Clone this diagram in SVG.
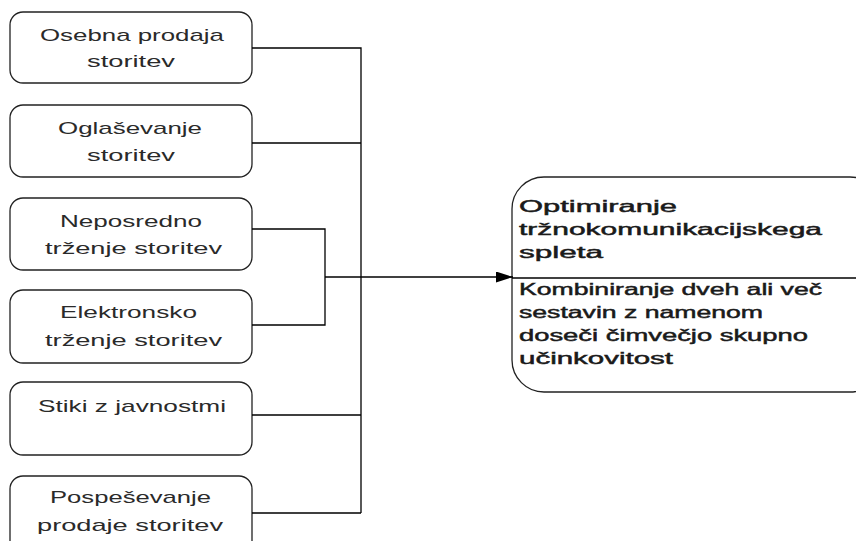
<svg xmlns="http://www.w3.org/2000/svg" width="856" height="541" viewBox="0 0 856 541">
<style>
.box{fill:#fff;stroke:#222;stroke-width:1.3}
.t{font-family:"Liberation Sans",Arial,sans-serif;font-size:17px;fill:#2a2a2a}
.b{font-size:16px;fill:#1a1a1a;stroke:#1a1a1a;stroke-width:0.45}
.ln{fill:none;stroke:#000;stroke-width:1.3}
</style>
<defs>
<marker id="ah" markerWidth="17" markerHeight="11" refX="17" refY="5.5" orient="auto" markerUnits="userSpaceOnUse">
<path d="M0,0 L17,5.5 L0,11 Z" fill="#000"/>
</marker>
</defs>
<g id="n1"><rect class="box" x="10" y="12" width="242" height="71" rx="13"/>
<text class="t" x="40" y="41" textLength="184" lengthAdjust="spacingAndGlyphs">Osebna prodaja</text>
<text class="t" x="87" y="67" textLength="88" lengthAdjust="spacingAndGlyphs">storitev</text></g>
<g id="n2"><rect class="box" x="10" y="105" width="242" height="72" rx="13"/>
<text class="t" x="58" y="134" textLength="144" lengthAdjust="spacingAndGlyphs">Oglaševanje</text>
<text class="t" x="87" y="161" textLength="88" lengthAdjust="spacingAndGlyphs">storitev</text></g>
<g id="n3"><rect class="box" x="10" y="198" width="242" height="72" rx="13"/>
<text class="t" x="60" y="227" textLength="142" lengthAdjust="spacingAndGlyphs">Neposredno</text>
<text class="t" x="45" y="254" textLength="177" lengthAdjust="spacingAndGlyphs">trženje storitev</text></g>
<g id="n4"><rect class="box" x="10" y="290" width="242" height="73" rx="13"/>
<text class="t" x="60" y="318" textLength="137" lengthAdjust="spacingAndGlyphs">Elektronsko</text>
<text class="t" x="45" y="346" textLength="177" lengthAdjust="spacingAndGlyphs">trženje storitev</text></g>
<g id="n5"><rect class="box" x="10" y="382" width="242" height="73" rx="13"/>
<text class="t" x="38" y="412" textLength="188" lengthAdjust="spacingAndGlyphs">Stiki z javnostmi</text></g>
<g id="n6"><rect class="box" x="10" y="476" width="242" height="80" rx="13"/>
<text class="t" x="50" y="503" textLength="161" lengthAdjust="spacingAndGlyphs">Pospeševanje</text>
<text class="t" x="37" y="531" textLength="186" lengthAdjust="spacingAndGlyphs">prodaje storitev</text></g>
<g id="n7"><rect class="box" x="512" y="177" width="370" height="215" rx="32"/>
<line class="ln" x1="512" y1="278" x2="856" y2="278"/>
<text class="t b" x="519" y="212" textLength="158" lengthAdjust="spacingAndGlyphs">Optimiranje</text>
<text class="t b" x="519" y="235" textLength="303" lengthAdjust="spacingAndGlyphs">tržnokomunikacijskega</text>
<text class="t b" x="519" y="258" textLength="84" lengthAdjust="spacingAndGlyphs">spleta</text>
<text class="t b" x="519" y="295" textLength="303" lengthAdjust="spacingAndGlyphs">Kombiniranje dveh ali več</text>
<text class="t b" x="519" y="318" textLength="244" lengthAdjust="spacingAndGlyphs">sestavin z namenom</text>
<text class="t b" x="519" y="341" textLength="289" lengthAdjust="spacingAndGlyphs">doseči čimvečjo skupno</text>
<text class="t b" x="519" y="364" textLength="154" lengthAdjust="spacingAndGlyphs">učinkovitost</text></g>
<g id="connectors">
<path class="ln" d="M252,48 H361 V513 M252,143 H361 M252,415 H361 M252,513 H361"/>
<path class="ln" d="M252,229 H325 V325 H252"/>
<path class="ln" d="M325,277 H513" stroke-width="2" marker-end="url(#ah)"/>
</g>
</svg>
